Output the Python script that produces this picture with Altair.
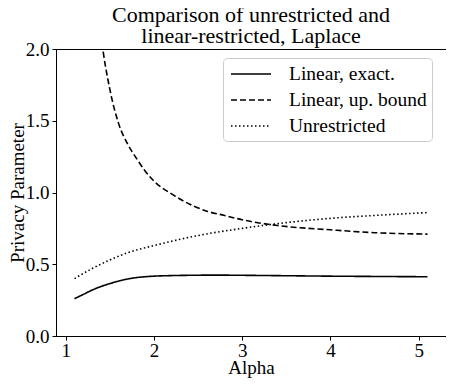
import altair as alt
import pandas as pd

FONT = "Liberation Serif"

series_names = ["Linear, exact.", "Linear, up. bound", "Unrestricted"]

exact_alpha = [1.1, 1.2, 1.3, 1.4, 1.5, 1.6, 1.7, 1.8, 1.9, 2.0, 2.2, 2.4, 2.6, 2.8, 3.0, 3.5, 4.0, 4.5, 5.1]
exact_vals = [0.26, 0.29, 0.32, 0.345, 0.365, 0.383, 0.397, 0.407, 0.413, 0.417, 0.421, 0.423, 0.424, 0.424, 0.423, 0.42, 0.417, 0.415, 0.413]

bound_alpha = [1.1, 1.2, 1.3, 1.4, 1.5, 1.6, 1.7, 1.8, 1.9, 2.0, 2.2, 2.4, 2.6, 2.8, 3.0, 3.4, 4.0, 4.5, 5.1]
bound_vals = [9.0, 4.4, 2.8, 2.1, 1.72, 1.48, 1.34, 1.24, 1.15, 1.08, 0.99, 0.92, 0.87, 0.84, 0.81, 0.77, 0.74, 0.72, 0.71]

unres_alpha = [1.1, 1.3, 1.5, 1.7, 2.0, 2.5, 3.0, 3.5, 4.0, 4.5, 5.1]
unres_vals = [0.40, 0.47, 0.53, 0.58, 0.63, 0.70, 0.75, 0.79, 0.82, 0.84, 0.86]

x_ticks = [1, 2, 3, 4, 5]
y_ticks = [0.0, 0.5, 1.0, 1.5, 2.0]

rows = []
for name, xs, ys in [
    (series_names[0], exact_alpha, exact_vals),
    (series_names[1], bound_alpha, bound_vals),
    (series_names[2], unres_alpha, unres_vals),
]:
    for a, v in zip(xs, ys):
        rows.append({"Alpha": a, "Value": v, "Series": name})
df = pd.DataFrame(rows)

chart = alt.Chart(df).mark_line(clip=True, color="black", strokeWidth=1.6, interpolate="monotone").encode(
    x=alt.X("Alpha:Q", scale=alt.Scale(domain=[0.89, 5.31], nice=False, zero=False),
            axis=alt.Axis(values=x_ticks, title="Alpha", format="d", labelPadding=1,
                          titleBaseline="alphabetic", titleY=37)),
    y=alt.Y("Value:Q", scale=alt.Scale(domain=[0, 2], nice=False),
            axis=alt.Axis(values=y_ticks, title="Privacy Parameter", format=".1f", labelPadding=3,
                          titleBaseline="alphabetic", titleAngle=270, titleX=-33)),
    strokeDash=alt.StrokeDash("Series:N",
        scale=alt.Scale(domain=series_names, range=[[1, 0], [6, 3], [1.5, 2.5]]),
        legend=alt.Legend(title=None, orient="none", legendX=167, legendY=9,
                          symbolType="M-0.8,0H3.2", symbolSize=400, symbolStrokeWidth=1.6,
                          symbolStrokeColor="black", symbolFillColor="transparent",
                          labelFont=FONT, labelFontSize=19.5, labelColor="black",
                          labelOffset=39, rowPadding=5, padding=5,
                          fillColor="white", strokeColor="#cccccc", cornerRadius=4)),
    detail="Series:N",
).properties(
    width=390, height=287,
    title=alt.TitleParams(["Comparison of unrestricted and", "linear-restricted, Laplace"],
                          font=FONT, fontSize=22, fontWeight="normal", color="black",
                          anchor="middle", lineHeight=21, offset=0, dy=8),
    autosize=alt.AutoSizeParams(type="none"),
    padding={"left": 48, "top": 41, "right": 0, "bottom": 42},
).configure_view(stroke="black", strokeWidth=1).configure_axis(
    grid=False, domainColor="black", tickColor="black", tickSize=4,
    labelFont=FONT, labelFontSize=19, labelColor="black",
    titleFont=FONT, titleFontSize=19, titleFontWeight="normal", titleColor="black",
)

chart.save("out.html", embed_options={"renderer": "svg", "actions": False})
